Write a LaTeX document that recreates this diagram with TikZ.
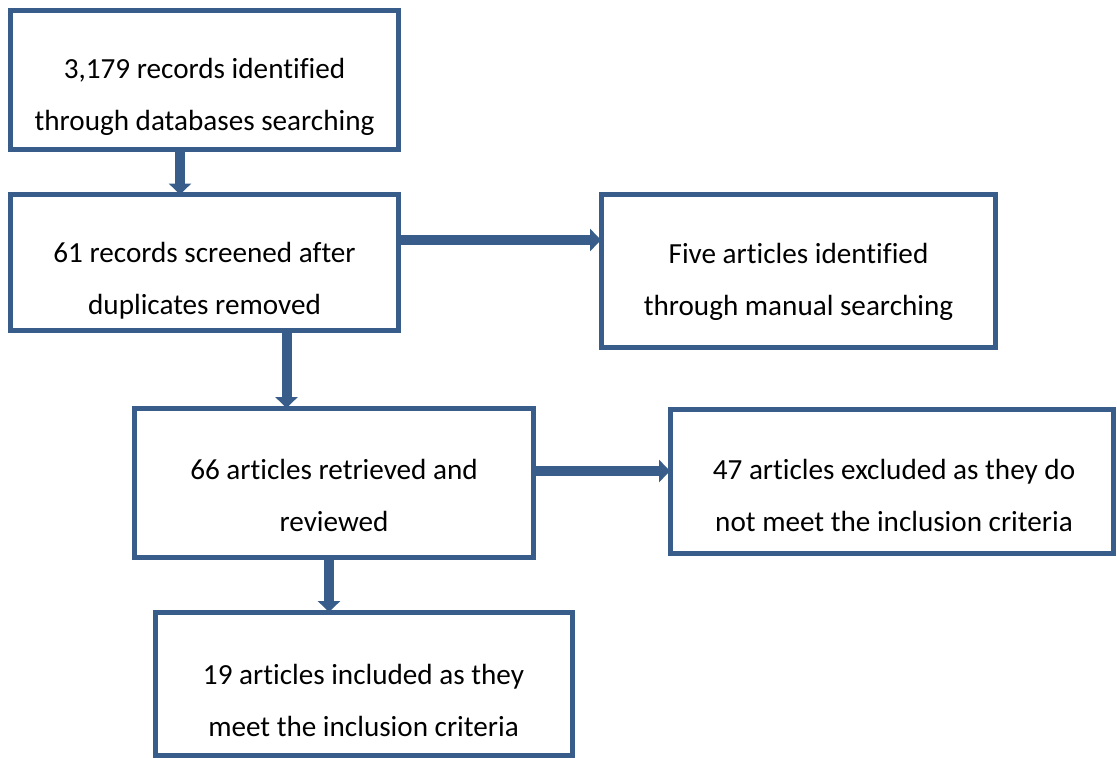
\documentclass[tikz,border=0pt]{standalone}
\usepackage{fontspec}
\setmainfont{Carlito}[Ligatures=CommonOff]
\usetikzlibrary{arrows.meta}
\definecolor{boxblue}{RGB}{56,93,138}

\begin{document}
\begin{tikzpicture}[x=0.02cm, y=-0.02cm,
	box/.style={draw=boxblue, line width=0.1cm, inner sep=0pt, outer sep=0pt},
	txt/.style={align=center, font=\fontsize{16.6}{29.6}\selectfont},
	flow/.style={draw=boxblue, line width=0.2cm, -{Triangle[width=0.44cm, length=0.22cm]}}]
	\useasboundingbox (0,0) rectangle (1117,758);
	\node[box, minimum width=7.76cm, minimum height=2.79cm] (boxA) at (204.5,80.25) {};
	\node[box, minimum width=7.76cm, minimum height=2.73cm] (boxB) at (204.5,262.75) {};
	\node[box, minimum width=7.89cm, minimum height=3.07cm] (boxC) at (798.25,271.25) {};
	\node[box, minimum width=7.98cm, minimum height=3.00cm] (boxD) at (334,483) {};
	\node[box, minimum width=8.88cm, minimum height=2.90cm] (boxE) at (892,481.5) {};
	\node[box, minimum width=8.36cm, minimum height=2.87cm] (boxF) at (364,683.75) {};
	\node[txt] (tA) at (204.5,97) {3,179 records identified\\through databases searching};
	\node[txt] (tB) at (204.5,281) {61 records screened after\\duplicates removed};
	\node[txt] (tC) at (798.5,281.5) {Five articles identified\\through manual searching};
	\node[txt] (tD) at (334,495.5) {66 articles retrieved and\\reviewed};
	\node[txt] (tE) at (894,495.5) {47 articles excluded as they do\\not meet the inclusion criteria};
	\node[txt] (tF) at (363.5,700) {19 articles included as they\\meet the inclusion criteria};
	\draw[flow] (180,0 |- boxA.south) -- (180,0 |- boxB.north);
	\draw[flow] (boxB.east |- 0,240) -- (boxC.west |- 0,240);
	\draw[flow] (286.5,0 |- boxB.south) -- (286.5,0 |- boxD.north);
	\draw[flow] (boxD.east |- 0,471) -- (boxE.west |- 0,471);
	\draw[flow] (329,0 |- boxD.south) -- (329,0 |- boxF.north);
\end{tikzpicture}
\end{document}
